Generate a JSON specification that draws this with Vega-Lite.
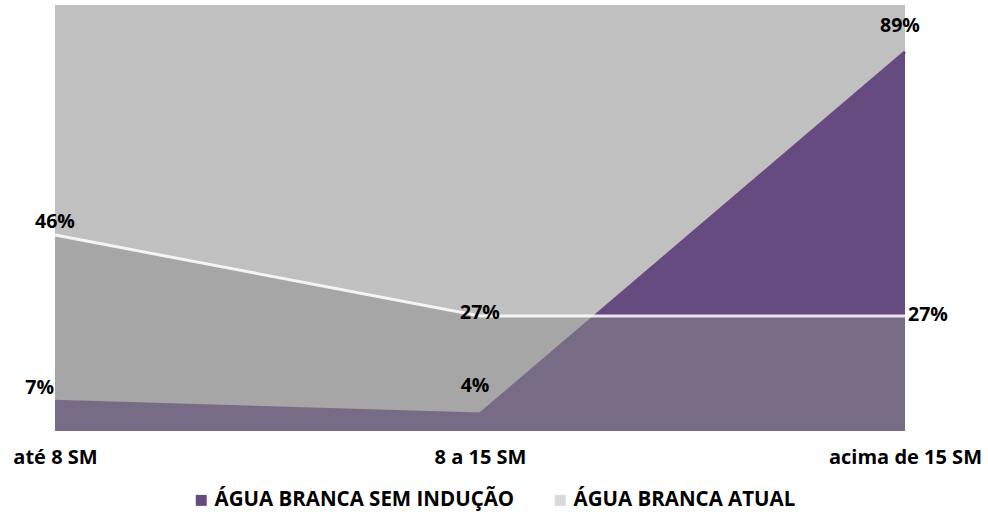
{
  "$schema": "https://vega.github.io/schema/vega-lite/v6.json",
  "width": 850,
  "height": 426,
  "autosize": {"type": "none"},
  "padding": {"left": 55, "top": 5, "right": 83, "bottom": 89},
  "background": "white",
  "view": {"fill": "#C0C0C0", "stroke": null},
  "config": {
    "font": "Open Sans",
    "axis": {"labelFont": "Open Sans", "labelFontWeight": "bold", "labelFontSize": 20, "labelColor": "#000000"},
    "legend": {"labelFont": "Open Sans", "labelFontWeight": "bold", "labelFontSize": 20.5, "labelColor": "#000000", "labelLimit": 0}
  },
  "data": {
    "values": [
      {"faixa": "até 8 SM", "serie": "ÁGUA BRANCA SEM INDUÇÃO", "valor": 7},
      {"faixa": "8 a 15 SM", "serie": "ÁGUA BRANCA SEM INDUÇÃO", "valor": 4},
      {"faixa": "acima de 15 SM", "serie": "ÁGUA BRANCA SEM INDUÇÃO", "valor": 89},
      {"faixa": "até 8 SM", "serie": "ÁGUA BRANCA ATUAL", "valor": 46},
      {"faixa": "8 a 15 SM", "serie": "ÁGUA BRANCA ATUAL", "valor": 27},
      {"faixa": "acima de 15 SM", "serie": "ÁGUA BRANCA ATUAL", "valor": 27}
    ]
  },
  "transform": [{"calculate": "datum.valor + '%'", "as": "rotulo"}],
  "encoding": {
    "x": {
      "field": "faixa", "type": "ordinal", "sort": null,
      "scale": {"type": "point", "padding": 0},
      "axis": {"title": null, "labelAngle": 0, "domain": false, "ticks": false, "labelPadding": 16, "grid": false}
    },
    "y": {
      "field": "valor", "type": "quantitative",
      "scale": {"domain": [0, 100], "nice": false},
      "axis": null
    }
  },
  "layer": [
    {
      "transform": [{"filter": "datum.serie === 'ÁGUA BRANCA SEM INDUÇÃO'"}],
      "mark": {"type": "area", "opacity": 1, "line": {"color": "#9A86B8", "strokeWidth": 3}},
      "encoding": {
        "color": {
          "field": "serie", "type": "nominal",
          "scale": {"domain": ["ÁGUA BRANCA SEM INDUÇÃO", "ÁGUA BRANCA ATUAL"], "range": ["#654B80", "#D9D9D9"]},
          "legend": {"title": null, "orient": "none", "legendX": 136, "legendY": 485, "direction": "horizontal", "symbolType": "square", "symbolSize": 120, "symbolStrokeWidth": 0, "symbolOpacity": 1, "columnPadding": 35, "labelOffset": 3}
        }
      }
    },
    {
      "transform": [{"filter": "datum.serie === 'ÁGUA BRANCA ATUAL'"}],
      "mark": {"type": "area", "fill": "#8C8C8C", "fillOpacity": 0.5, "opacity": 1}
    },
    {
      "transform": [{"filter": "datum.serie === 'ÁGUA BRANCA ATUAL'"}],
      "mark": {"type": "line", "stroke": "#FFFFFF", "strokeWidth": 3, "opacity": 0.85}
    },
    {
      "transform": [{"filter": "datum.serie === 'ÁGUA BRANCA ATUAL' && datum.faixa === 'até 8 SM'"}],
      "mark": {"type": "text", "fontWeight": "bold", "fontSize": 19.5, "align": "center", "baseline": "bottom", "dy": -3, "color": "#000000"},
      "encoding": {"text": {"field": "rotulo"}}
    },
    {
      "transform": [{"filter": "datum.serie === 'ÁGUA BRANCA ATUAL' && datum.faixa === '8 a 15 SM'"}],
      "mark": {"type": "text", "fontWeight": "bold", "fontSize": 19.5, "align": "center", "baseline": "middle", "dy": -3, "color": "#000000"},
      "encoding": {"text": {"field": "rotulo"}}
    },
    {
      "transform": [{"filter": "datum.serie === 'ÁGUA BRANCA ATUAL' && datum.faixa === 'acima de 15 SM'"}],
      "mark": {"type": "text", "fontWeight": "bold", "fontSize": 19.5, "align": "left", "baseline": "middle", "dx": 3, "dy": -1, "color": "#000000"},
      "encoding": {"text": {"field": "rotulo"}}
    },
    {
      "transform": [{"filter": "datum.serie === 'ÁGUA BRANCA SEM INDUÇÃO' && datum.faixa === 'até 8 SM'"}],
      "mark": {"type": "text", "fontWeight": "bold", "fontSize": 19.5, "align": "right", "baseline": "bottom", "dx": -1, "dy": -3, "color": "#000000"},
      "encoding": {"text": {"field": "rotulo"}}
    },
    {
      "transform": [{"filter": "datum.serie === 'ÁGUA BRANCA SEM INDUÇÃO' && datum.faixa === '8 a 15 SM'"}],
      "mark": {"type": "text", "fontWeight": "bold", "fontSize": 19.5, "align": "center", "baseline": "bottom", "dx": -5, "dy": -18, "color": "#000000"},
      "encoding": {"text": {"field": "rotulo"}}
    },
    {
      "transform": [{"filter": "datum.serie === 'ÁGUA BRANCA SEM INDUÇÃO' && datum.faixa === 'acima de 15 SM'"}],
      "mark": {"type": "text", "fontWeight": "bold", "fontSize": 19.5, "align": "center", "baseline": "bottom", "dx": -5, "dy": -16, "color": "#000000"},
      "encoding": {"text": {"field": "rotulo"}}
    }
  ]
}
